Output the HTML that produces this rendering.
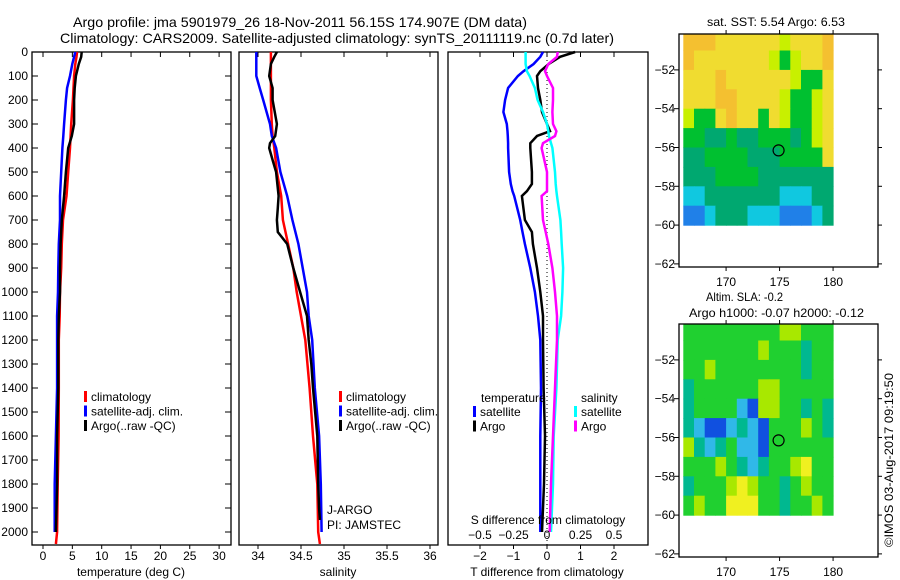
<!DOCTYPE html>
<html><head><meta charset="utf-8">
<style>
body{margin:0;background:#fff;}
svg{display:block;font-family:"Liberation Sans",sans-serif;}
text{font-size:12px;fill:#000;}
.big{font-size:14px;}
</style></head>
<body>
<svg id="c" width="900" height="580" viewBox="0 0 900 580">
<text class="big" x="73" y="27" textLength="454" lengthAdjust="spacingAndGlyphs">Argo profile: jma 5901979_26 18-Nov-2011 56.15S 174.907E (DM data)</text>
<text class="big" x="60" y="43" textLength="554" lengthAdjust="spacingAndGlyphs">Climatology: CARS2009. Satellite-adjusted climatology: synTS_20111119.nc (0.7d later)</text>
</svg>
<script>
// ---- profile data ----
const tDepth = [0,20,50,100,150,200,300,350,400,500,600,700,800,900,1000,1100,1200,1400,1600,1800,2000,2050];
const tClim  = [5.8,5.7,5.5,5.3,5.2,5.1,4.8,4.7,4.6,4.3,4.0,3.4,3.2,3.1,2.9,2.85,2.7,2.7,2.65,2.5,2.4,2.2];
const tSat   = [5.5,5.3,5.0,4.6,4.1,3.9,3.6,3.45,3.3,3.1,2.9,2.9,2.7,2.6,2.55,2.4,2.4,2.4,2.2,2.0,2.0,2.0];
const tArgo  = [6.6,6.5,6.1,5.6,5.4,5.3,5.3,4.9,4.3,3.9,3.6,3.2,3.0,2.9,2.9,2.7,2.6,2.6,2.4,2.4,2.2,2.2];
const sClim  = [34.15,34.15,34.15,34.15,34.15,34.15,34.16,34.17,34.19,34.22,34.27,34.29,34.35,34.41,34.45,34.50,34.55,34.60,34.64,34.69,34.70,34.72];
const sSat   = [33.98,33.98,33.98,33.98,34.02,34.06,34.14,34.16,34.21,34.26,34.34,34.40,34.47,34.52,34.57,34.59,34.63,34.66,34.71,34.73,34.74,34.74];
const sArgoDepth = [0,20,50,100,150,200,300,350,380,400,450,500,600,650,700,750,800,900,1000,1100,1200,1300,1400,1600,1800,1900,1950];
const sArgo  = [34.22,34.19,34.15,34.13,34.17,34.17,34.22,34.20,34.14,34.13,34.17,34.21,34.24,34.23,34.22,34.23,34.34,34.41,34.49,34.57,34.59,34.62,34.64,34.69,34.70,34.71,34.72];
const dDepth = [0,20,50,80,100,150,200,250,300,330,350,380,400,500,550,580,600,700,750,800,900,1000,1100,1200,1400,1600,1800,2000];
const dTSat  = [-0.12,-0.2,-0.4,-0.7,-0.87,-1.16,-1.25,-1.3,-1.2,-1.18,-1.17,-1.16,-1.16,-1.13,-1.08,-1.03,-0.98,-0.8,-0.73,-0.66,-0.5,-0.36,-0.27,-0.2,-0.18,-0.2,-0.2,-0.2];
const dTArgo = [0.84,0.39,0.05,-0.2,-0.3,-0.27,-0.2,-0.15,0,0.09,-0.3,-0.5,-0.5,-0.45,-0.45,-0.6,-0.75,-0.66,-0.45,-0.42,-0.3,-0.2,-0.12,-0.12,-0.1,-0.06,-0.09,-0.15];
const dSArgo = [0.08,0.075,0.01,-0.015,0,0.045,0.045,0.04,0.045,0.07,0.06,-0.03,-0.04,0,0,0,-0.04,-0.03,-0.01,0.01,0.04,0.06,0.075,0.075,0.06,0.045,0.03,0.02];
const dSSat  = [-0.16,-0.16,-0.16,-0.15,-0.13,-0.09,-0.07,-0.03,0,0.01,0.015,0.03,0.04,0.06,0.065,0.07,0.075,0.1,0.105,0.11,0.12,0.115,0.105,0.08,0.07,0.05,0.045,0.03];
const depthTicks = [0,100,200,300,400,500,600,700,800,900,1000,1100,1200,1300,1400,1500,1600,1700,1800,1900,2000];
const tTicks = [0,5,10,15,20,25,30];
const sTicks = [34,34.5,35,35.5,36];
const sTickLabels = ["34","34.5","35","35.5","36"];
const dTTicks = [-2,-1,0,1,2];
const dSTicks = [-0.5,-0.25,0,0.25,0.5];
const dSTickLabels = ["\u22120.5","\u22120.25","0","0.25","0.5"];
// ---- map data (1 deg cells, lon 166..180, lat -50..-60) ----
const sstGrid = [
 [7,7,7,6,6,6,6,6,6,5,6,6,6,7],
 [7,6,6,6,6,6,6,6,5,4,5,6,6,7],
 [6,6,6,7,6,6,6,6,6,6,5,4,4,6],
 [6,6,6,7,7,6,6,6,6,5,4,4,5,6],
 [5,4,4,6,7,6,6,4,6,5,4,4,5,6],
 [4,4,3,3,4,3,3,4,4,4,3,4,5,6],
 [3,3,4,4,4,4,3,3,3,4,4,4,4,6],
 [3,3,3,4,4,4,4,3,3,3,3,3,3,3],
 [2,2,3,3,3,3,3,3,3,2,2,2,3,3],
 [1,1,2,3,3,3,2,2,2,1,1,1,2,3]];
const slaGrid = [
 [4,4,4,4,4,4,4,4,4,5,5,4,4,4],
 [4,4,4,4,4,4,4,5,4,4,4,3,4,4],
 [4,4,5,4,4,4,4,4,4,4,4,3,4,4],
 [3,4,4,4,4,4,4,5,5,4,4,4,4,4],
 [3,4,4,4,4,2,1,5,5,4,4,3,4,3],
 [3,2,1,1,2,3,2,1,4,4,4,5,4,3],
 [5,3,2,3,4,2,2,1,4,4,4,4,4,4],
 [4,4,4,5,4,3,2,3,4,4,5,6,4,4],
 [3,4,4,4,5,6,5,4,4,3,4,5,4,4],
 [4,5,4,4,6,6,6,4,4,3,4,4,5,4]];
const sstColors = ["#1030c0","#2080e8","#10c8e0","#00a870","#00c030","#c8f000","#f0dc30","#f4c030"];
const slaColors = ["#0010a0","#1050e0","#30b8e8","#00b890","#20d030","#a8e800","#f0f020"];
const latTicks = [-52,-54,-56,-58,-60,-62];
const lonTicks = [170,175,180];
const argoLon = 174.907, argoLat = -56.15;

const NS="http://www.w3.org/2000/svg";
const svg=document.getElementById('c');
function el(tag,attrs,parent){const e=document.createElementNS(NS,tag);for(const k in attrs)e.setAttribute(k,attrs[k]);(parent||svg).appendChild(e);return e;}
function txt(x,y,s,anchor,name){const t=el('text',{x:x,y:y,'text-anchor':anchor||'start'});t.textContent=s;


return t;}

const Y0=52, YS=0.24;
const yD=d=>Y0+d*YS;
const xT=v=>43+v*5.87;
const xS=v=>258+(v-34)*86;
const xDT=v=>547+v*33.5;
const xDS=v=>547+v*134;

function frame(x0,x1,y0,y1,name){const r=el('rect',{x:x0,y:y0,width:x1-x0,height:y1-y0,fill:'none',stroke:'#000','stroke-width':1.3});

}
function line(vals,depths,xf,color,name,w){
  const pts=vals.map((v,i)=>xf(v).toFixed(1)+','+yD(depths[i]).toFixed(1)).join(' ');
  const p=el('polyline',{points:pts,fill:'none',stroke:color,'stroke-width':w||2.5});
  
  
}
function legend(bx,ty,items){items.forEach((it,i)=>{const y=ty+i*14.5;
  const r=el('rect',{x:bx,y:y-10,width:3,height:11,fill:it[0]});
  
  
  txt(bx+7,y,it[1],'start','legend-entry');});}

const YB=545;
// panel 1
frame(32,231,Y0,YB,'temperature-panel-frame');
depthTicks.forEach(d=>{el('line',{x1:32,x2:38,y1:yD(d),y2:yD(d),stroke:'#000'});el('line',{x1:225,x2:231,y1:yD(d),y2:yD(d),stroke:'#000'});txt(28,yD(d)+4,String(d),'end','depth-tick-label');});
tTicks.forEach(v=>{el('line',{x1:xT(v),x2:xT(v),y1:Y0,y2:Y0+5,stroke:'#000'});el('line',{x1:xT(v),x2:xT(v),y1:YB,y2:YB+4,stroke:'#000'});txt(xT(v),560,String(v),'middle','temperature-tick-label');});
line(tClim,tDepth,xT,'#f00','temperature-climatology-line');
line(tSat,tDepth.slice(0,21),xT,'#00f','temperature-satellite-line');
line(tArgo,tDepth.slice(0,21),xT,'#000','temperature-argo-line');
legend(84,401,[['#f00','climatology'],['#00f','satellite-adj. clim.'],['#000','Argo(..raw -QC)']]);
txt(131,576,'temperature (deg C)','middle','temperature-axis-title');

// panel 2
frame(239,438,Y0,YB,'salinity-panel-frame');
sTicks.forEach((v,i)=>{el('line',{x1:xS(v),x2:xS(v),y1:Y0,y2:Y0+5,stroke:'#000'});el('line',{x1:xS(v),x2:xS(v),y1:YB,y2:YB+4,stroke:'#000'});txt(xS(v),560,sTickLabels[i],'middle','salinity-tick-label');});
line(sClim,tDepth,xS,'#f00','salinity-climatology-line');
line(sSat,tDepth.slice(0,21),xS,'#00f','salinity-satellite-line');
line(sArgo,sArgoDepth,xS,'#000','salinity-argo-line');
legend(339,401,[['#f00','climatology'],['#00f','satellite-adj. clim.'],['#000','Argo(..raw -QC)']]);
txt(327,514,'J-ARGO','start','float-program-label');
txt(327,529,'PI: JAMSTEC','start','float-pi-label');
txt(338,576,'salinity','middle','salinity-axis-title');

// panel 3
frame(448,648,Y0,YB,'difference-panel-frame');
el('line',{x1:547,x2:547,y1:Y0,y2:YB,stroke:'#000','stroke-dasharray':'1,3'});
dTTicks.forEach(v=>{el('line',{x1:xDT(v),x2:xDT(v),y1:Y0,y2:Y0+5,stroke:'#000'});el('line',{x1:xDT(v),x2:xDT(v),y1:YB,y2:YB+4,stroke:'#000'});txt(xDT(v),560,v<0?'\u2212'+(-v):String(v),'middle','t-diff-tick-label');});
line(dTSat,dDepth,xDT,'#00f','t-diff-satellite-line');
line(dTArgo,dDepth,xDT,'#000','t-diff-argo-line');
line(dSSat,dDepth,xDS,'#0ff','s-diff-satellite-line');
line(dSArgo,dDepth,xDS,'#f0f','s-diff-argo-line');
txt(481,402,'temperature','start','legend-temperature-header');
txt(581,402,'salinity','start','legend-salinity-header');
legend(473,416,[['#00f','satellite'],['#000','Argo']]);
legend(574,416,[['#0ff','satellite'],['#f0f','Argo']]);
txt(548,524,'S difference from climatology','middle','s-diff-axis-title');
dSTicks.forEach((v,i)=>txt(xDS(v),539,dSTickLabels[i],'middle','s-diff-tick-label'));
txt(547,576,'T difference from climatology','middle','t-diff-axis-title');

// maps
function map(top,grid,colors,name){
  const L=679,R=878,B=top+233;
  const lx=v=>L+(v-165.6)*10.7;
  const ly=v=>top+(-50.15-v)*19.4;
  grid.forEach((row,r)=>row.forEach((c,k)=>{const x=lx(166+k),y=Math.max(top,ly(-50-r));
    const h=ly(-51-r)-y+0.6;
    const rc=el('rect',{x:x.toFixed(1),y:y.toFixed(1),width:11.2,height:h.toFixed(1),fill:colors[c]});
    
    }));
  frame(L,R,top,B,name+'-frame');
  latTicks.forEach(v=>{const y=ly(v);el('line',{x1:L-5,x2:L,y1:y,y2:y,stroke:'#000'});el('line',{x1:R,x2:R+4,y1:y,y2:y,stroke:'#000'});txt(L-4,y+4,'\u2212'+(-v),'end','latitude-tick-label');});
  lonTicks.forEach(v=>{const x=lx(v);el('line',{x1:x,x2:x,y1:top-4,y2:top,stroke:'#000'});el('line',{x1:x,x2:x,y1:B,y2:B+4,stroke:'#000'});txt(x,B+19,String(v),'middle','longitude-tick-label');});
  const c=el('circle',{cx:lx(argoLon),cy:ly(argoLat),r:5.5,fill:'none',stroke:'#000','stroke-width':1.2});
  
  
}
map(34,sstGrid,sstColors,'sst-map');
map(324,slaGrid,slaColors,'sla-map');
const t1=txt(707,26,'sat. SST: 5.54 Argo: 6.53','start','sst-map-title');
t1.setAttribute('textLength','138');t1.setAttribute('lengthAdjust','spacingAndGlyphs');t1.setAttribute('font-size','13');
const t2=txt(706,301,'Altim. SLA: -0.2','start','sla-map-title');
t2.setAttribute('textLength','77');t2.setAttribute('lengthAdjust','spacingAndGlyphs');t2.setAttribute('font-size','13');
const t3=txt(689,317,'Argo h1000: -0.07 h2000: -0.12','start','sla-map-subtitle');
t3.setAttribute('textLength','175');t3.setAttribute('lengthAdjust','spacingAndGlyphs');t3.setAttribute('font-size','13');
const v=txt(0,0,'\u00a9IMOS 03-Aug-2017 09:19:50','start','timestamp-label');
v.setAttribute('textLength','174');v.setAttribute('lengthAdjust','spacingAndGlyphs');
v.setAttribute('transform','translate(893,547) rotate(-90)');
</script>
</body></html>
